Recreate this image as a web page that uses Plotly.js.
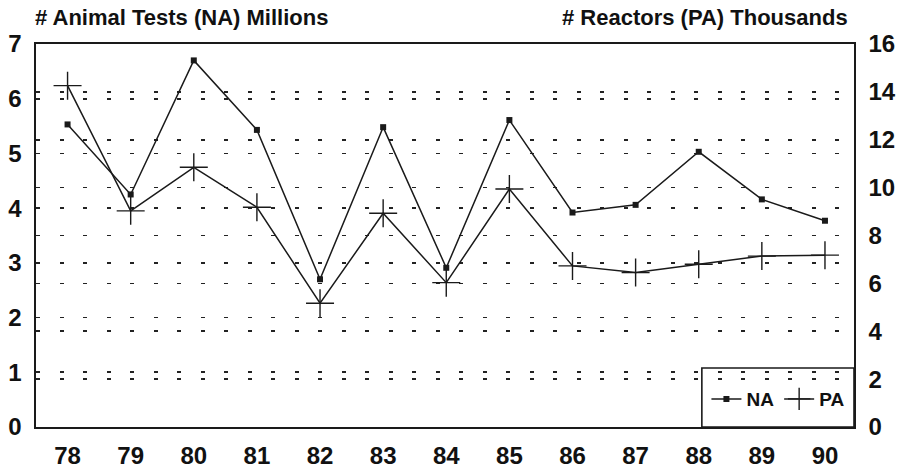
<!DOCTYPE html>
<html>
<head>
<meta charset="utf-8">
<script src="https://cdn.plot.ly/plotly-3.0.1.min.js"></script>
<style>
html,body{margin:0;padding:0;background:#fff;}
#chart{width:897px;height:472px;}
</style>
</head>
<body>
<div id="chart"></div>
<script>
// Data
var years = [78, 79, 80, 81, 82, 83, 84, 85, 86, 87, 88, 89, 90];
var yearLabels = ["78","79","80","81","82","83","84","85","86","87","88","89","90"];
var animalTestsNA = [5.53, 4.25, 6.70, 5.43, 2.70, 5.48, 2.91, 5.61, 3.92, 4.06, 5.03, 4.16, 3.77]; // millions
var reactorsPA = [14.26, 9.03, 10.85, 9.18, 5.17, 8.93, 6.03, 9.94, 6.73, 6.45, 6.80, 7.14, 7.18];  // thousands
var leftTicks = [0, 1, 2, 3, 4, 5, 6, 7];
var rightTicks = [0, 2, 4, 6, 8, 10, 12, 14, 16];

var INK = '#1a1a1a';
var FONT = 'Liberation Sans, Arial, Helvetica, sans-serif';

var traceNA = {
  x: years, y: animalTestsNA, name: 'NA', type: 'scatter', mode: 'lines+markers',
  line: {color: INK, width: 1.5},
  marker: {symbol: 'square', size: 6, color: INK},
  yaxis: 'y'
};
var tracePA = {
  x: years, y: reactorsPA, name: 'PA', type: 'scatter', mode: 'lines+markers',
  line: {color: INK, width: 1.5},
  marker: {symbol: 'cross-thin', size: 20, color: INK, line: {color: INK, width: 1.4}},
  yaxis: 'y2'
};

var tickFont = {family: FONT, size: 24, color: '#111', weight: 700};
var gridDash = '4px,19.5px';

var layout = {
  width: 897, height: 472,
  margin: {l: 36, r: 43, t: 44, b: 45, pad: 0},
  paper_bgcolor: '#fff', plot_bgcolor: '#fff',
  showlegend: true,
  legend: {
    orientation: 'h', x: 0.907, xanchor: 'center', y: 0.073, yanchor: 'middle',
    bgcolor: 'rgba(0,0,0,0)', borderwidth: 0,
    font: {family: FONT, size: 19, color: '#111', weight: 700},
    itemwidth: 30, tracegroupgap: 0
  },
  xaxis: {
    range: [77.5, 90.46],
    tickmode: 'array', tickvals: years, ticktext: yearLabels,
    tickfont: tickFont, ticks: '', ticklabelstandoff: 7,
    showgrid: false, zeroline: false,
    showline: true, linecolor: INK, linewidth: 1.6, mirror: true
  },
  yaxis: {
    range: [0, 7],
    tickmode: 'array', tickvals: leftTicks, ticktext: leftTicks.map(String),
    tickfont: tickFont, ticks: '', ticklabelstandoff: 8,
    showgrid: true, gridcolor: '#222', gridwidth: 1.7, griddash: gridDash,
    zeroline: false,
    showline: true, linecolor: INK, linewidth: 1.6
  },
  yaxis2: {
    range: [0, 16], overlaying: 'y', side: 'right',
    tickmode: 'array', tickvals: rightTicks, ticktext: rightTicks.map(String),
    tickfont: tickFont, ticks: '', ticklabelstandoff: 8,
    showgrid: true, gridcolor: '#222', gridwidth: 1.7, griddash: gridDash,
    zeroline: false,
    showline: true, linecolor: INK, linewidth: 1.6
  },
  shapes: [{
    type: 'rect', xref: 'paper', yref: 'paper',
    x0: 0.814, x1: 1, y0: 0, y1: 0.154,
    line: {color: INK, width: 1.6}, fillcolor: '#fff', layer: 'below'
  }],
  annotations: [
    {text: '# Animal Tests (NA) Millions', xref: 'paper', yref: 'paper',
     x: -0.004, xanchor: 'left', y: 1.068, yanchor: 'middle', showarrow: false,
     font: {family: FONT, size: 22, color: '#111', weight: 700}},
    {text: '# Reactors (PA) Thousands', xref: 'paper', yref: 'paper',
     x: 0.995, xanchor: 'right', y: 1.068, yanchor: 'middle', showarrow: false,
     font: {family: FONT, size: 22, color: '#111', weight: 700}}
  ]
};

Plotly.newPlot('chart', [traceNA, tracePA], layout, {displayModeBar: false, staticPlot: true});
</script>
</body>
</html>
